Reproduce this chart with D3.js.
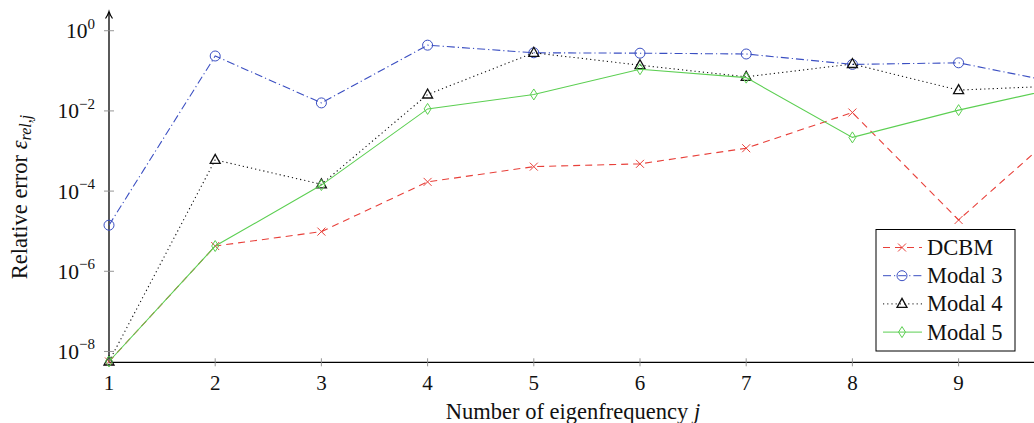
<!DOCTYPE html>
<html>
<head>
<meta charset="utf-8">
<script src="https://cdn.jsdelivr.net/npm/d3@7"></script>
<style>
  body { margin: 0; background: #fff; }
  svg { display: block; }
  text { font-family: "Liberation Serif", "Times New Roman", "DejaVu Serif", serif; }
</style>
</head>
<body>
<div id="chart"></div>
<script>
// eigenfrequency index j
var eigIdx = [1, 2, 3, 4, 5, 6, 7, 8, 9, 10];

// relative errors (log10 values)
var dcbmLog   = [-8.25, -5.37, -5.01, -3.77, -3.39, -3.32, -2.93, -2.04, -4.72, -2.37];
var modal3Log = [-4.85, -0.63, -1.80, -0.36, -0.55, -0.56, -0.58, -0.84, -0.80, -1.33];
var modal4Log = [-8.25, -3.22, -3.83, -1.59, -0.55, -0.86, -1.15, -0.83, -1.48, -1.37];
var modal5Log = [-8.25, -5.37, -3.85, -1.95, -1.59, -0.96, -1.17, -2.66, -1.98, -1.39];

var seriesNames = ["DCBM", "Modal 3", "Modal 4", "Modal 5"];
var yTickExp = [0, -2, -4, -6, -8];
var xTicks = [1, 2, 3, 4, 5, 6, 7, 8, 9];

var w = 1034, h = 423;
var serif = "'Liberation Serif', 'Times New Roman', serif";

var svg = d3.select("#chart").append("svg")
  .attr("width", w)
  .attr("height", h);

var xScale = d3.scaleLinear()
  .domain([1, 10])
  .range([109, 1064.8]);

var yScale = d3.scaleLog()
  .domain([Math.pow(10, -8.27), Math.pow(10, 0.36)])
  .range([362.3, 16.3]);

function toVals(arr) {
  return arr.map(function(d, i) { return { x: eigIdx[i], y: Math.pow(10, d) }; });
}

var series = [
  { name: seriesNames[0], data: toVals(dcbmLog),   color: "#e8403a", dash: "7,5",        marker: "cross" },
  { name: seriesNames[1], data: toVals(modal3Log), color: "#3b4fc2", dash: "8,3,1.2,3",  marker: "circle" },
  { name: seriesNames[2], data: toVals(modal4Log), color: "#111111", dash: "1.2,3",      marker: "triangle" },
  { name: seriesNames[3], data: toVals(modal5Log), color: "#5ccf52", dash: null,         marker: "diamond" }
];

var tickColor = "#8a8a8a";

// axes lines
var axisY0 = yScale.range()[0];
svg.append("line")
  .attr("x1", 109).attr("x2", w)
  .attr("y1", axisY0).attr("y2", axisY0)
  .attr("stroke", "#000").attr("stroke-width", 1.3);

svg.append("line")
  .attr("x1", 109).attr("x2", 109)
  .attr("y1", axisY0).attr("y2", 13)
  .attr("stroke", "#000").attr("stroke-width", 1.3);

// arrow head on y axis
svg.append("path")
  .attr("d", "M105.5,18.5 Q108,15 109,11.5 Q110,15 112.5,18.5")
  .attr("fill", "none")
  .attr("stroke", "#000")
  .attr("stroke-width", 1.2);

// x ticks
svg.selectAll(".xtick")
  .data(xTicks)
  .enter()
  .append("line")
  .attr("class", "xtick")
  .attr("x1", function(d) { return xScale(d); })
  .attr("x2", function(d) { return xScale(d); })
  .attr("y1", axisY0 - 4).attr("y2", axisY0 + 4)
  .attr("stroke", tickColor).attr("stroke-width", 0.9);

svg.selectAll(".xlabel")
  .data(xTicks)
  .enter()
  .append("text")
  .attr("class", "xlabel")
  .attr("x", function(d) { return xScale(d); })
  .attr("y", 390)
  .attr("text-anchor", "middle")
  .attr("font-family", serif)
  .attr("font-size", "21px")
  .attr("fill", "#111")
  .text(function(d) { return d; });

// y ticks
svg.selectAll(".ytick")
  .data(yTickExp)
  .enter()
  .append("line")
  .attr("class", "ytick")
  .attr("x1", 104).attr("x2", 114)
  .attr("y1", function(d) { return yScale(Math.pow(10, d)); })
  .attr("y2", function(d) { return yScale(Math.pow(10, d)); })
  .attr("stroke", tickColor).attr("stroke-width", 0.9);

var ylab = svg.selectAll(".ylabel")
  .data(yTickExp)
  .enter()
  .append("text")
  .attr("class", "ylabel")
  .attr("x", 95)
  .attr("y", function(d) { return yScale(Math.pow(10, d)) + 7.5; })
  .attr("text-anchor", "end")
  .attr("font-family", serif)
  .attr("font-size", "21.5px")
  .attr("fill", "#111");

ylab.append("tspan").text("10");
ylab.append("tspan")
  .attr("dy", -9.5)
  .attr("font-size", "15px")
  .text(function(d) { return d === 0 ? "0" : "\u2212" + Math.abs(d); });

// lines + markers
var line = d3.line()
  .x(function(d) { return xScale(d.x); })
  .y(function(d) { return yScale(d.y); });

function drawMarker(g, type, color, x, y) {
  if (type === "cross") {
    g.append("path")
      .attr("d", "M" + (x - 4) + "," + (y - 4) + "L" + (x + 4) + "," + (y + 4) +
                 "M" + (x - 4) + "," + (y + 4) + "L" + (x + 4) + "," + (y - 4))
      .attr("stroke", color).attr("stroke-width", 1).attr("fill", "none");
  } else if (type === "circle") {
    g.append("circle")
      .attr("cx", x).attr("cy", y).attr("r", 5)
      .attr("stroke", color).attr("stroke-width", 1).attr("fill", "none");
  } else if (type === "triangle") {
    g.append("path")
      .attr("d", "M" + x + "," + (y - 5.5) + "L" + (x + 5) + "," + (y + 3.5) + "L" + (x - 5) + "," + (y + 3.5) + "Z")
      .attr("stroke", color).attr("stroke-width", 1.3).attr("fill", "none");
  } else if (type === "diamond") {
    g.append("path")
      .attr("d", "M" + x + "," + (y - 5.5) + "L" + (x + 3.5) + "," + y + "L" + x + "," + (y + 5.5) + "L" + (x - 3.5) + "," + y + "Z")
      .attr("stroke", color).attr("stroke-width", 1).attr("fill", "none");
  }
}

series.forEach(function(s) {
  var g = svg.append("g");
  g.append("path")
    .datum(s.data)
    .attr("d", line)
    .attr("fill", "none")
    .attr("stroke", s.color)
    .attr("stroke-width", 1.1)
    .attr("stroke-dasharray", s.dash);
  s.data.forEach(function(d) {
    drawMarker(g, s.marker, s.color, xScale(d.x), yScale(d.y));
  });
});

// legend
var lg = svg.append("g");
lg.append("rect")
  .attr("x", 876).attr("y", 229.5)
  .attr("width", 139).attr("height", 121.5)
  .attr("fill", "#fff")
  .attr("stroke", "#000")
  .attr("stroke-width", 1);

series.forEach(function(s, i) {
  var cy = 247.5 + i * 28.2;
  lg.append("line")
    .attr("x1", 883).attr("x2", 922)
    .attr("y1", cy).attr("y2", cy)
    .attr("stroke", s.color).attr("stroke-width", 1)
    .attr("stroke-dasharray", s.dash);
  drawMarker(lg, s.marker, s.color, 902, cy);
  lg.append("text")
    .attr("x", 927).attr("y", cy + 7.5)
    .attr("font-family", serif)
    .attr("font-size", "22.5px")
    .attr("fill", "#111")
    .text(s.name);
});

// axis titles
var xt = svg.append("text")
  .attr("x", 573).attr("y", 419)
  .attr("text-anchor", "middle")
  .attr("font-family", serif)
  .attr("font-size", "22.5px")
  .attr("fill", "#111");
xt.append("tspan").text("Number of eigenfrequency ");
xt.append("tspan").attr("font-style", "italic").text("j");

var yt = svg.append("text")
  .attr("transform", "translate(27,197) rotate(-90)")
  .attr("text-anchor", "middle")
  .attr("font-family", serif)
  .attr("font-size", "22.5px")
  .attr("fill", "#111");
yt.append("tspan").text("Relative error ");
yt.append("tspan").attr("font-style", "italic").text("\u03b5");
yt.append("tspan").attr("font-style", "italic").attr("font-size", "16px").attr("dy", 4).text("rel,j");
</script>
</body>
</html>
